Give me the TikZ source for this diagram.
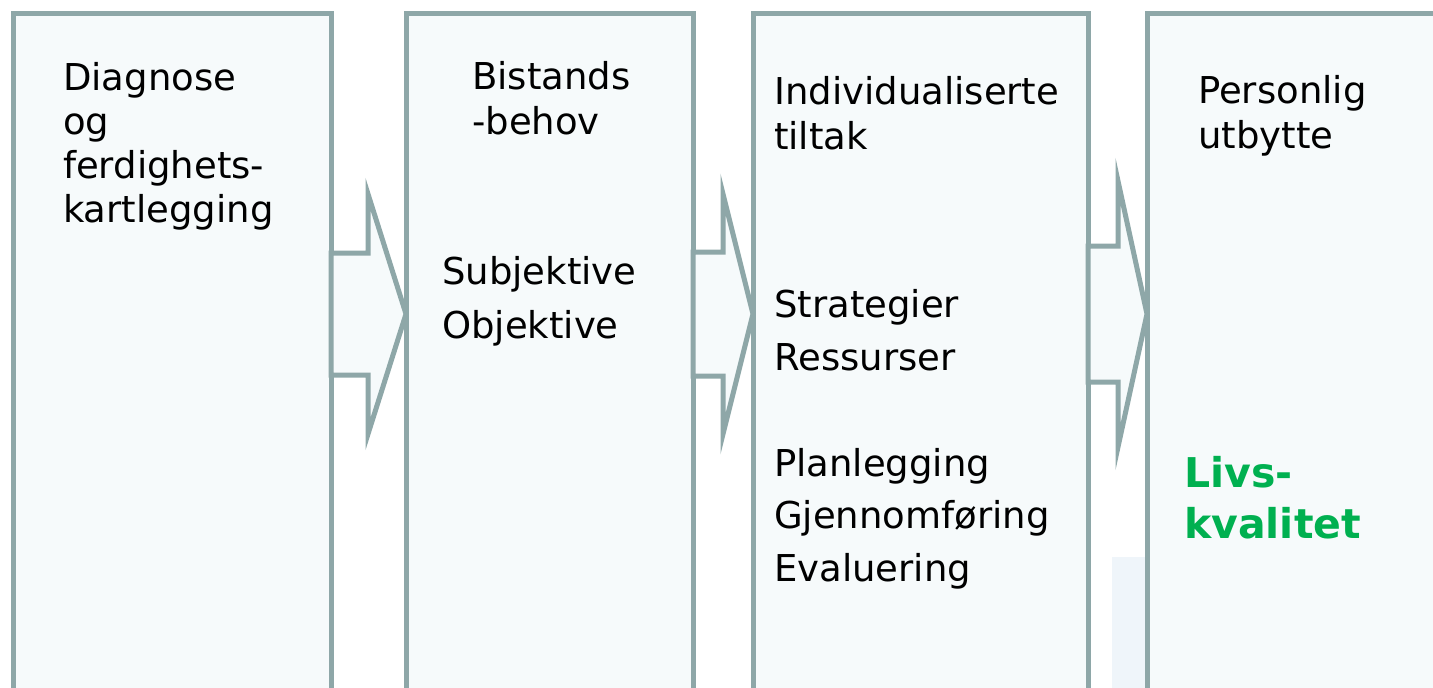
\documentclass[tikz,border=0pt]{standalone}
\usepackage{fontspec}
\setmainfont{DejaVu Sans}
\usetikzlibrary{calc}

\definecolor{framegray}{HTML}{8EA7A8}
\definecolor{paneblue}{HTML}{F6FAFB}
\definecolor{shadeblue}{HTML}{EFF5FA}
\definecolor{livsgreen}{HTML}{00B050}

\tikzset{
    stagebox/.style={rectangle, draw=framegray, fill=paneblue, line width=5pt,
        anchor=north west, inner sep=0pt, outer sep=0pt, minimum height=720pt},
    flowarrow/.style={draw=framegray, fill=paneblue, line width=5pt, miter limit=20},
    boxtext/.style={anchor=base west, inner sep=0pt, font=\fontsize{37}{44}\selectfont},
    keytext/.style={boxtext, font=\fontsize{41}{51}\selectfont\bfseries, text=livsgreen}
}

\begin{document}
\begin{tikzpicture}[x=1pt, y=-1pt]
        \useasboundingbox (0,0) rectangle (1433,688);
        \clip (0,0) rectangle (1433,688);

        \fill[shadeblue] (1112,557) rectangle (1147,700);

        \node[stagebox, minimum width=318pt] (box1) at (13,13) {};
        \node[stagebox, minimum width=287pt] (box2) at (406,13) {};
        \node[stagebox, minimum width=335pt] (box3) at (753,13) {};
        \node[stagebox, minimum width=340pt] (box4) at (1147,13) {};

        % block arrows between the stages
        \coordinate (mid) at (0,314);
        \foreach \src/\dst/\hx/\sh/\hh in {box1/box2/37/61/120, box2/box3/30/62/120, box3/box4/30/68/133} {
            \coordinate (\src-out) at (\src.east |- mid);
            \coordinate (\dst-in) at (\dst.west |- mid);
            \draw[flowarrow] ($(\src-out)+(0,-\sh)$) -- ++(\hx,0) -- ++(0,\sh-\hh)
                -- (\dst-in) -- ($(\src-out)+(\hx,\hh)$) -- ++(0,\sh-\hh)
                -- ($(\src-out)+(0,\sh)$) -- cycle;
        }

        \foreach \word [count=\i] in {Diagnose, og, ferdighets-, kartlegging}
            \node[boxtext] (diag\i) at (63,{90+44.3*(\i-1)}) {\word};

        \foreach \word [count=\i] in {Bistands, -behov}
            \node[boxtext] (need\i) at (472,{89+45*(\i-1)}) {\word};
        \foreach \word [count=\i] in {Subjektive, Objektive}
            \node[boxtext] (kind\i) at (442,{284+54*(\i-1)}) {\word};

        \foreach \word [count=\i] in {Individualiserte, tiltak}
            \node[boxtext] (tiltak\i) at (774,{104+45*(\i-1)}) {\word};
        \foreach \word [count=\i] in {Strategier, Ressurser}
            \node[boxtext] (strat\i) at (774,{317+53*(\i-1)}) {\word};
        \foreach \word [count=\i] in {Planlegging, Gjennomføring, Evaluering}
            \node[boxtext] (plan\i) at (774,{476+52.5*(\i-1)}) {\word};

        \foreach \word [count=\i] in {Personlig, utbytte}
            \node[boxtext] (pers\i) at (1198,{103+45*(\i-1)}) {\word};
        \foreach \word [count=\i] in {Livs-, kvalitet}
            \node[keytext] (livs\i) at (1184,{487+51*(\i-1)}) {\word};
    \end{tikzpicture}
\end{document}
